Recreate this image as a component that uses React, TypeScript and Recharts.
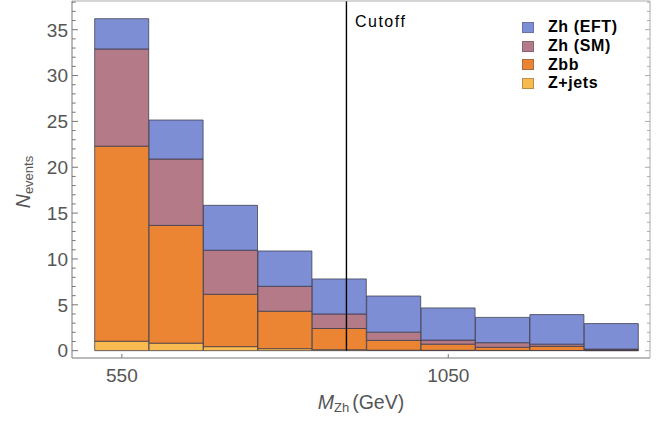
import React from 'react';
import { ComposedChart, Bar, XAxis, YAxis, ReferenceLine, Legend, Label } from 'recharts';

// ---- data ----
const binCenters = [550, 633, 717, 800, 883, 967, 1050, 1133, 1217, 1300];
const zJets = [1.03, 0.82, 0.44, 0.22, 0.1, 0.05, 0.04, 0.02, 0.02, 0.01];
const zbb = [21.27, 12.84, 5.71, 4.08, 2.32, 1.07, 0.67, 0.35, 0.45, 0.07];
const zhSM = [10.6, 7.24, 4.8, 2.72, 1.58, 0.9, 0.44, 0.5, 0.24, 0.09];
const zhEFT = [3.3, 4.25, 4.9, 3.85, 3.82, 3.94, 3.51, 2.76, 3.22, 2.78];
const seriesNames = ['Zh (EFT)', 'Zh (SM)', 'Zbb', 'Z+jets'];
const xTickValues = [550, 1050];
const yTickValues = Array.from({ length: 39 }, (_, i) => i);
const cutoffValue = 894;

const COLORS: Record<string, string> = {
  'Zh (EFT)': '#7e8ed5',
  'Zh (SM)': '#b47a88',
  Zbb: '#ec8533',
  'Z+jets': '#f9bb50',
};

const data = binCenters.map((c, i) => ({
  center: c,
  zjets: zJets[i],
  zbb: zbb[i],
  sm: zhSM[i],
  eft: zhEFT[i],
}));

const FONT = "'Liberation Sans', Arial, sans-serif";
const TICK_COLOR = '#555';
const AXIS_COLOR = '#777';
const FRAME_COLOR = '#aaa';
const EDGE = '#3a3a4a';

const LeftTick = (props: any) => {
  const { x, y, payload } = props;
  const v = payload.value;
  const major = v % 5 === 0;
  return (
    <g>
      <line x1={x} y1={y} x2={x + (major ? 6 : 3.7)} y2={y} stroke={AXIS_COLOR} strokeWidth={1} />
      {major && (
        <text x={x - 4} y={y + 6.8} textAnchor="end" fontSize={19} fill={TICK_COLOR} fontFamily={FONT}>
          {v}
        </text>
      )}
    </g>
  );
};

const RightTick = (props: any) => {
  const { x, y, payload } = props;
  const major = payload.value % 5 === 0;
  return <line x1={x} y1={y} x2={x - (major ? 5 : 3)} y2={y} stroke={FRAME_COLOR} strokeWidth={1} />;
};

const BottomTick = (props: any) => {
  const { x, y, payload } = props;
  return (
    <g>
      <line x1={x} y1={y} x2={x} y2={y - 4} stroke={AXIS_COLOR} strokeWidth={1} />
      <text x={x} y={y + 23.7} textAnchor="middle" fontSize={19} fill={TICK_COLOR} fontFamily={FONT}>
        {payload.value}
      </text>
    </g>
  );
};

const LegendContent = () => (
  <div style={{ fontFamily: FONT }}>
    {seriesNames.map((n) => (
      <div key={n} style={{ display: 'flex', alignItems: 'center', height: 18.7 }}>
        <span
          style={{
            display: 'inline-block',
            width: 12,
            height: 11,
            background: COLORS[n],
            border: '1px solid rgba(60,60,80,0.35)',
            boxSizing: 'border-box',
            marginRight: 14,
          }}
        />
        <span style={{ fontSize: 16, fontWeight: 'bold', letterSpacing: 0.6, color: '#000', whiteSpace: 'nowrap' }}>
          {n}
        </span>
      </div>
    ))}
  </div>
);

export default function App() {
  return (
    <div style={{ position: 'absolute', left: 0, top: 0, width: 672, height: 424, background: '#fff' }}>
      <ComposedChart
        width={672}
        height={424}
        data={data}
        margin={{ top: 0, right: 0, bottom: 0, left: 0 }}
        barCategoryGap={0}
        barGap={0}
      >
        <XAxis
          xAxisId="num"
          dataKey="center"
          type="number"
          domain={[473.6, 1359]}
          allowDataOverflow
          ticks={xTickValues}
          interval={0}
          height={66}
          tickLine={false}
          tickSize={0}
          tickMargin={0}
          axisLine={{ stroke: AXIS_COLOR, strokeWidth: 1 }}
          tick={<BottomTick />}
        >
          <Label
            content={(p: any) => {
              const vb = p.viewBox || {};
              return (
                <text x={vb.x + vb.width / 2} y={vb.y + 51} textAnchor="middle" fill={TICK_COLOR} fontFamily={FONT} fontSize={19.5}>
                  <tspan fontStyle="italic">M</tspan>
                  <tspan fontSize={13} dy={3}>Zh</tspan>
                  <tspan dy={-3} dx={3}>(GeV)</tspan>
                </text>
              );
            }}
          />
        </XAxis>
        <XAxis xAxisId="cat" dataKey="center" type="category" hide height={0} padding={{ left: 22.7, right: 11.3 }} />
        <XAxis
          xAxisId="top"
          orientation="top"
          type="number"
          domain={[473.6, 1359]}
          allowDataOverflow
          height={1}
          tick={false}
          tickLine={false}
          axisLine={{ stroke: FRAME_COLOR, strokeWidth: 1 }}
        />
        <YAxis
          yAxisId="left"
          type="number"
          domain={[-0.8, 38.13]}
          allowDataOverflow
          ticks={yTickValues}
          interval={0}
          width={72}
          tickLine={false}
          tickSize={0}
          tickMargin={0}
          axisLine={{ stroke: AXIS_COLOR, strokeWidth: 1 }}
          tick={<LeftTick />}
        >
          <Label
            content={(p: any) => {
              const vb = p.viewBox || {};
              const cx = vb.x + 30;
              const cy = vb.y + vb.height / 2 + 2.5;
              return (
                <text transform={`translate(${cx},${cy}) rotate(-90)`} textAnchor="middle" fill={TICK_COLOR} fontFamily={FONT} fontSize={19.5}>
                  <tspan fontStyle="italic">N</tspan>
                  <tspan fontSize={13} dy={3}>events</tspan>
                </text>
              );
            }}
          />
        </YAxis>
        <YAxis
          yAxisId="right"
          orientation="right"
          type="number"
          domain={[-0.8, 38.13]}
          allowDataOverflow
          ticks={yTickValues}
          interval={0}
          width={22}
          tickLine={false}
          tickSize={0}
          tickMargin={0}
          axisLine={{ stroke: FRAME_COLOR, strokeWidth: 1 }}
          tick={<RightTick />}
        />
        <Bar xAxisId="cat" yAxisId="left" dataKey="zjets" name="Z+jets" stackId="a" fill={COLORS['Z+jets']} stroke={EDGE} strokeOpacity={0.75} strokeWidth={1} isAnimationActive={false} />
        <Bar xAxisId="cat" yAxisId="left" dataKey="zbb" name="Zbb" stackId="a" fill={COLORS.Zbb} stroke={EDGE} strokeOpacity={0.75} strokeWidth={1} isAnimationActive={false} />
        <Bar xAxisId="cat" yAxisId="left" dataKey="sm" name="Zh (SM)" stackId="a" fill={COLORS['Zh (SM)']} stroke={EDGE} strokeOpacity={0.75} strokeWidth={1} isAnimationActive={false} />
        <Bar xAxisId="cat" yAxisId="left" dataKey="eft" name="Zh (EFT)" stackId="a" fill={COLORS['Zh (EFT)']} stroke={EDGE} strokeOpacity={0.75} strokeWidth={1} isAnimationActive={false} />
        <ReferenceLine
          xAxisId="num"
          yAxisId="left"
          segment={[
            { x: cutoffValue, y: 0 },
            { x: cutoffValue, y: 38.13 },
          ]}
          ifOverflow="visible"
          stroke="#000"
          strokeWidth={1.4}
        >
          <Label
            content={(p: any) => {
              const vb = p.viewBox || {};
              return (
                <text x={vb.x + 8.5} y={Math.min(vb.y, vb.y + (vb.height || 0)) + 26} fontSize={16} letterSpacing={1.5} fill="#000" fontFamily={FONT}>
                  Cutoff
                </text>
              );
            }}
          />
        </ReferenceLine>
        <Legend
          layout="vertical"
          align="center"
          verticalAlign="middle"
          content={<LegendContent />}
          wrapperStyle={{ position: 'absolute', left: 522, top: 18, width: 150, height: 80 }}
        />
      </ComposedChart>
    </div>
  );
}
